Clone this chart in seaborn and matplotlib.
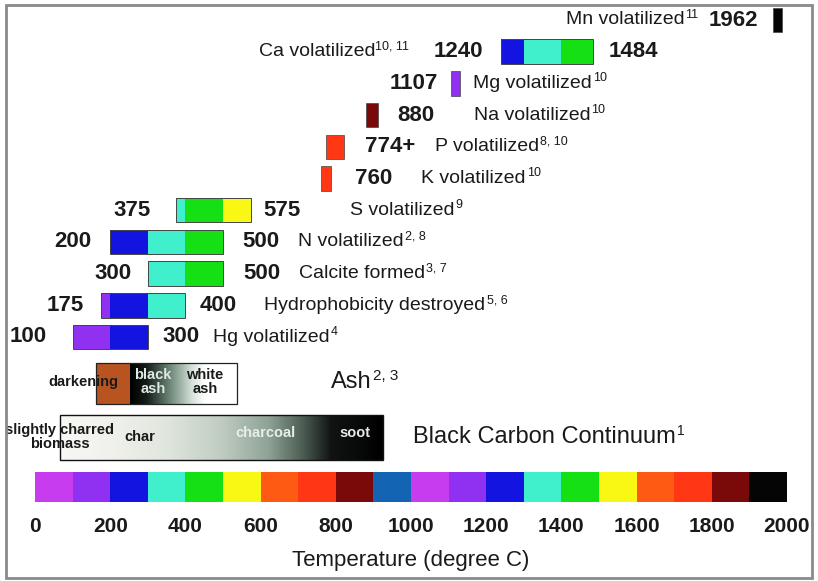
import numpy as np
import matplotlib
matplotlib.use("Agg")
import matplotlib.pyplot as plt
import seaborn as sns
from matplotlib.colors import LinearSegmentedColormap
from matplotlib.patches import Rectangle

# colour scale of the temperature bar, one colour per 100 degrees
seg_colors = ["#c83cf0", "#9030f0", "#1414e0", "#40f0cc", "#14e014",
              "#f8f814", "#ff5a14", "#ff3714", "#7a0a0a", "#1464b4",
              "#c83cf0", "#9030f0", "#1414e0", "#40f0cc", "#14e014",
              "#f8f814", "#ff5a14", "#ff3714", "#7a0a0a", "#050505"]
seg_start = list(range(0, 2000, 100))

# range events (start, end)
range_names = ["Ca volatilized", "S volatilized", "N volatilized", "Calcite formed",
               "Hydrophobicity destroyed", "Hg volatilized"]
range_refs = ["10, 11", "9", "2, 8", "3, 7", "5, 6", "4"]
range_row = [1, 6, 7, 8, 9, 10]
range_lo = [1240, 375, 200, 300, 175, 100]
range_hi = [1484, 575, 500, 500, 400, 300]

# single temperature events
point_names = ["Mn volatilized", "Mg volatilized", "Na volatilized", "P volatilized", "K volatilized"]
point_refs = ["11", "10", "10", "8, 10", "10"]
point_row = [0, 2, 3, 4, 5]
point_val = [1962, 1107, 880, 774, 760]
point_lbl = ["1962", "1107", "880", "774+", "760"]
point_w = [26, 24, 32, 48, 28]

sns.set_theme(style="white")
plt.rcParams["font.family"] = ["Liberation Sans", "DejaVu Sans"]

W, H = 818, 581
fig = plt.figure(figsize=(W / 100, H / 100), dpi=100)
ax = fig.add_axes([35 / W, (H - 502) / H, 752 / W, 502 / H])

def ypos(px):
    return (px - 20) / 31.7

bh = 0.77
edge = "#444444"
ink = "#1a1a1a"
vfont = dict(fontsize=16, fontweight="bold", va="center", color=ink)

def note(txt, x, y, dx, ha, **kw):
    return ax.annotate(txt, xy=(x, y), xytext=(dx, 0), textcoords="offset pixels",
                       ha=ha, annotation_clip=False, **kw)

def name_label(base, sup, x, y, dx, size=14, sup_size=9):
    # label with a small raised reference number; dx < 0 -> right aligned
    if dx >= 0:
        t = note(base, x, y, dx, "left", fontsize=size, va="center", color=ink)
        ax.annotate(sup, xy=(1, y), xycoords=(t, "data"), xytext=(1, size * 0.36),
                    textcoords="offset pixels", ha="left", va="center", fontsize=sup_size, color=ink)
    else:
        s = note(sup, x, y, dx, "right", fontsize=sup_size, va="center", color=ink)
        s.xyann = (dx, size * 0.36)
        ax.annotate(base, xy=(0, y), xycoords=(s, "data"), xytext=(0, 0),
                    textcoords="offset pixels", ha="right", va="center", fontsize=size, color=ink)

# range bars, coloured by the temperature scale
gaps = {1: (18, 16, -92), 6: (25, 12, 99), 7: (19, 19, 75), 8: (16, 20, 76), 9: (17, 14, 79), 10: (26, 15, 65)}
for name, ref, r, lo, hi in zip(range_names, range_refs, range_row, range_lo, range_hi):
    for s, c in zip(seg_start, seg_colors):
        a, b = max(lo, s), min(hi, s + 100)
        if b > a:
            ax.barh(r, b - a, left=a, height=bh, color=c, linewidth=0)
    ax.barh(r, hi - lo, left=lo, height=bh, fill=False, edgecolor=edge, linewidth=0.7)
    gl, gr, gn = gaps[r]
    note(str(lo), lo, r, -gl, "right", **vfont)
    note(str(hi), hi, r, gr, "left", **vfont)
    if gn < 0:
        name_label(name, ref, lo, r, gn)
    else:
        name_label(name, ref, hi, r, gn)

# point bars
pgaps = {0: (-15, -75), 2: (-13, 13), 3: (19, 96), 4: (21, 91), 5: (24, 90)}
for name, ref, r, v, lbl, w in zip(point_names, point_refs, point_row, point_val, point_lbl, point_w):
    ax.barh(r, w, left=v, height=bh, color=seg_colors[v // 100], edgecolor=edge, linewidth=0.5)
    gv, gn = pgaps[r]
    if gv < 0:
        note(lbl, v, r, gv, "right", **vfont)
    else:
        note(lbl, v + w, r, gv, "left", **vfont)
    if gn < 0:
        name_label(name, ref, v, r, gn)
    else:
        name_label(name, ref, v + w, r, gn)

# ash box
ash_lo, ash_dark, ash_hi = 162, 253, 537
ay0, ay1 = ypos(363), ypos(404)
ax.barh((ay0 + ay1) / 2, ash_dark - ash_lo, left=ash_lo, height=ay1 - ay0, color="#b85420", linewidth=0)
ash_cmap = LinearSegmentedColormap.from_list("ash", [(0, "#000000"), (0.15, "#121c16"), (0.38, "#6f8a7a"),
                                                     (0.58, "#d6e2da"), (0.7, "#ffffff"), (1, "#ffffff")])
ax.imshow(np.linspace(0, 1, 256)[None, :], cmap=ash_cmap, aspect="auto", interpolation="bicubic",
          extent=(ash_dark, ash_hi, ay1, ay0))
ax.add_patch(Rectangle((ash_lo, ay0), ash_hi - ash_lo, ay1 - ay0, fill=False, edgecolor="#222222", lw=0.9))
sfont = dict(fontsize=10.5, fontweight="bold", ha="center", va="center", linespacing=1.0)
ax.text(128, ypos(382), "darkening", color=ink, **sfont)
ax.text(314, ypos(382), "black\nash", color="#dfe8e2", **sfont)
ax.text(452, ypos(382), "white\nash", color=ink, **sfont)
name_label("Ash", "2, 3", 787, ypos(382), 0, size=17, sup_size=11)

# black carbon continuum
bc_lo, bc_hi = 66, 925
by0, by1 = ypos(415), ypos(460)
bc_cmap = LinearSegmentedColormap.from_list("bc", [(0, "#f8f8f4"), (0.16, "#f0f1ec"), (0.33, "#e0e6de"),
                                                   (0.5, "#c0ccc2"), (0.645, "#8fa396"), (0.76, "#48584e"),
                                                   (0.84, "#121414"), (1, "#000000")])
ax.imshow(np.linspace(0, 1, 256)[None, :], cmap=bc_cmap, aspect="auto", interpolation="bicubic",
          extent=(bc_lo, bc_hi, by1, by0))
ax.add_patch(Rectangle((bc_lo, by0), bc_hi - bc_lo, by1 - by0, fill=False, edgecolor="#111111", lw=1))
ax.text(66, ypos(437), "slightly charred\nbiomass", color=ink, **sfont)
ax.text(279, ypos(437), "char", color=ink, **sfont)
ax.text(612, ypos(433), "charcoal", color="#e8eee9", **sfont)
ax.text(851, ypos(433), "soot", color="#e8e8e8", **sfont)
name_label("Black Carbon Continuum", "1", 1005, ypos(437), 0, size=17, sup_size=10)

# temperature colour bar
cy0, cy1 = ypos(472), ypos(502)
ax.barh([(cy0 + cy1) / 2] * 20, [100] * 20, left=seg_start, height=cy1 - cy0,
        color=sns.color_palette(seg_colors), linewidth=0)

ax.set_xlim(0, 2000)
ax.set_ylim(ypos(502), ypos(0))
for sp in ax.spines.values():
    sp.set_visible(False)
ax.set_yticks([])
ax.set_xticks(range(0, 2001, 200))
ax.set_xticklabels([str(t) for t in range(0, 2001, 200)], fontsize=15, fontweight="bold", color=ink)
ax.tick_params(axis="x", length=0, pad=11)
ax.set_xlabel("Temperature (degree C)", fontsize=16, labelpad=10, color=ink)
ax.grid(False)

fig.patches.append(Rectangle((6 / W, 3 / H), 806 / W, 573 / H, transform=fig.transFigure,
                             fill=False, edgecolor="#8a8a8a", lw=2))

fig.savefig("out.png", dpi=100)
